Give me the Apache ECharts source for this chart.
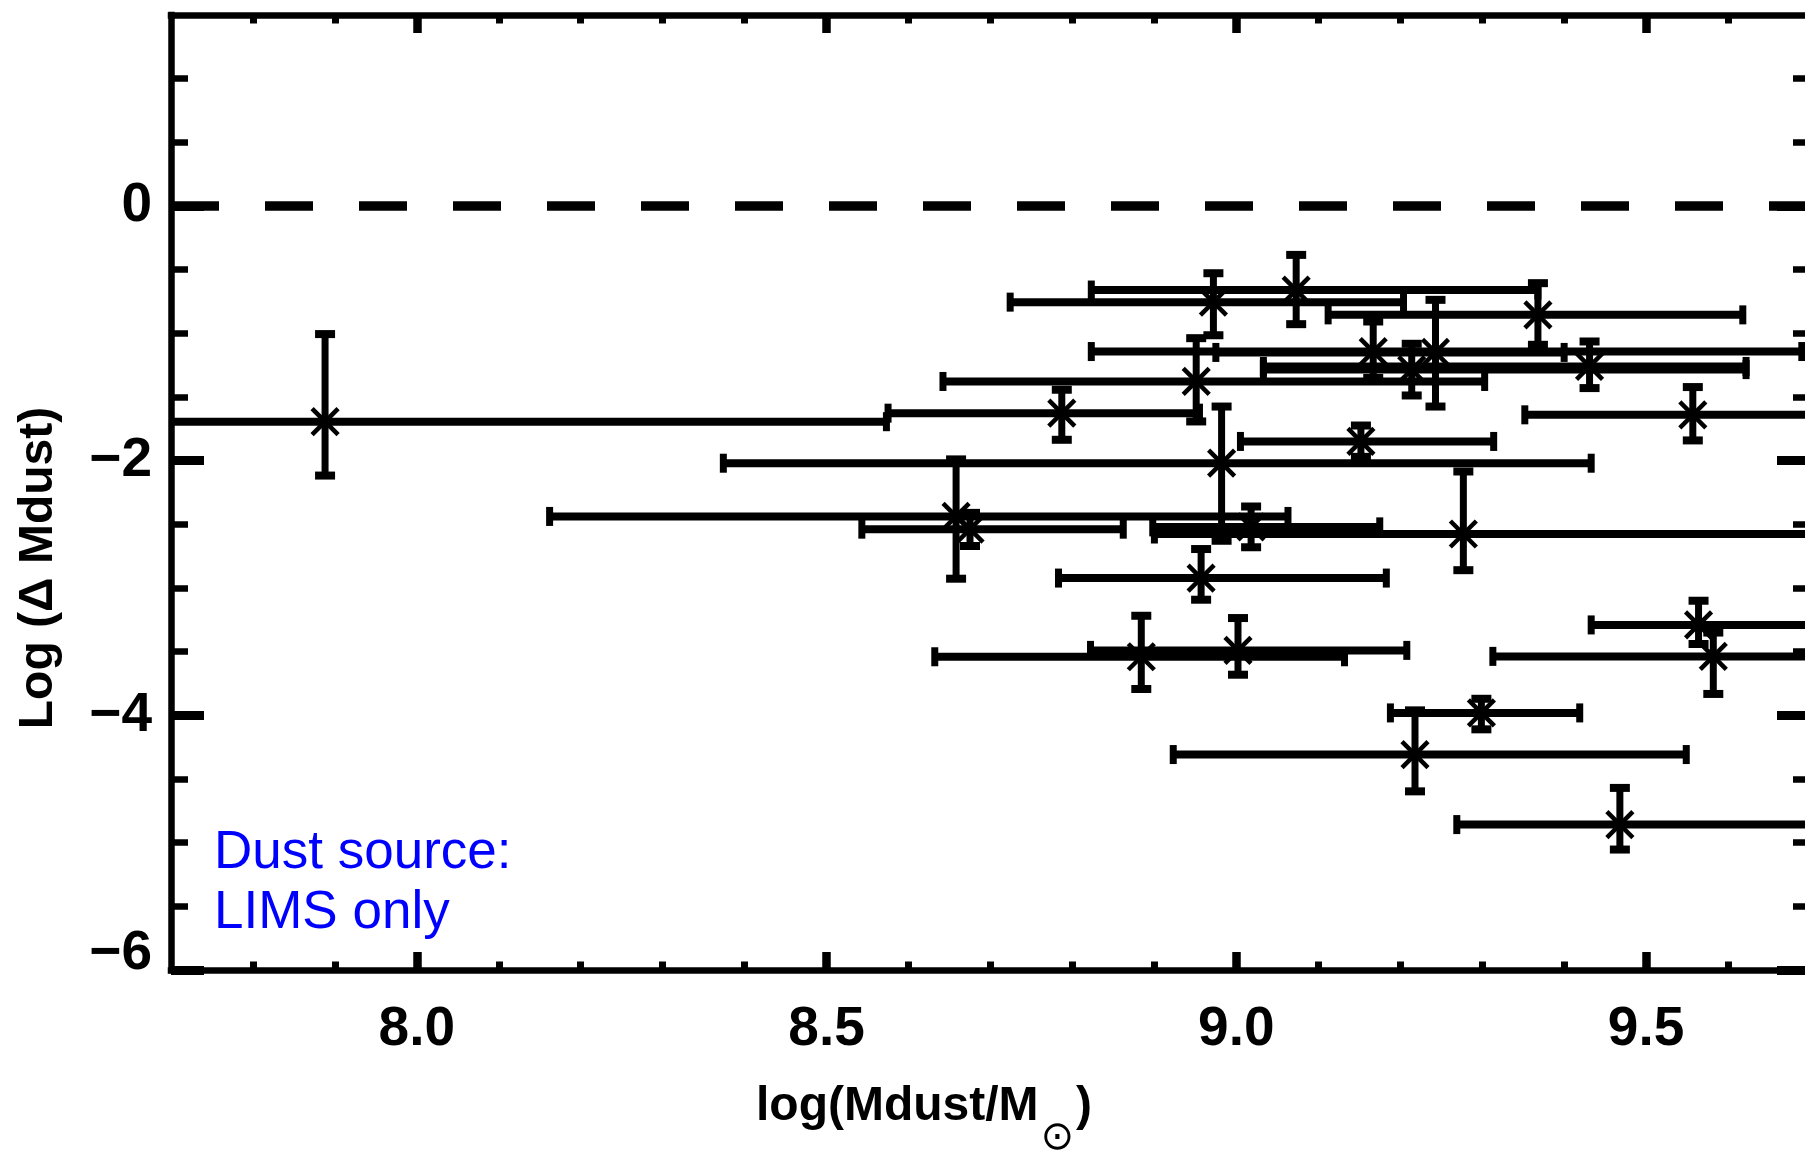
<!DOCTYPE html>
<html>
<head>
<meta charset="utf-8">
<script src="https://cdn.jsdelivr.net/npm/echarts@6/dist/echarts.min.js"></script>
<style>
html,body{margin:0;padding:0;background:#fff;}
#c{width:1805px;height:1153px;}
</style>
</head>
<body>
<div id="c"></div>
<script>
// ---- data ----
// order: P1, A..X
const xVal  = [7.888, 8.972, 9.073, 9.368, 9.167, 8.951, 8.787, 8.982, 8.658, 8.675, 9.018, 9.277, 8.957, 8.884, 9.002, 9.564, 9.582, 9.299, 9.218, 9.468, 9.214, 9.243, 9.557, 9.431, 9.152];
const yVal  = [-1.694, -0.755, -0.660, -0.855, -1.143, -1.378, -1.627, -2.020, -2.438, -2.538, -2.520, -2.576, -2.922, -3.540, -3.490, -3.290, -3.537, -3.981, -4.308, -4.858, -1.285, -1.150, -1.640, -1.260, -1.849];
const xLow  = [7.10, 8.724, 8.823, 9.112, 8.823, 8.642, 8.575, 8.374, 8.162, 8.543, 8.898, 8.900, 8.783, 8.632, 8.822, 9.433, 9.313, 9.188, 8.923, 9.269, 9.033, 8.975, 9.352, 9.033, 9.005];
const xHigh = [8.573, 9.204, 9.368, 9.618, 9.690, 9.303, 8.955, 9.433, 9.063, 8.862, 9.175, 9.80, 9.183, 9.132, 9.208, 9.72, 9.85, 9.419, 9.549, 9.75, 9.622, 9.400, 9.78, 9.622, 9.314];
const yLow  = [-2.117, -1.015, -0.928, -1.090, -1.350, -1.692, -1.836, -2.629, -2.927, -2.670, -2.680, -2.860, -3.092, -3.793, -3.681, -3.440, -3.832, -4.110, -4.597, -5.054, -1.488, -1.575, -1.841, -1.430, -1.970];
const yHigh = [-1.006, -0.528, -0.384, -0.606, -0.907, -1.038, -1.443, -1.575, -1.990, -2.410, -2.360, -2.085, -2.694, -3.218, -3.236, -3.100, -3.350, -3.870, -3.961, -4.570, -1.082, -0.737, -1.422, -1.064, -1.724];

const refLine = [[7.7, 0], [9.7, 0]];

const xMajor = [8.0, 8.5, 9.0, 9.5];
const xMinor = [7.8, 7.9, 8.1, 8.2, 8.3, 8.4, 8.6, 8.7, 8.8, 8.9, 9.1, 9.2, 9.3, 9.4, 9.6];
const yMajor = [-6, -4, -2, 0];
const yMinor = [1.0, 0.5, -0.5, -1.0, -1.5, -2.5, -3.0, -3.5, -4.5, -5.0, -5.5];

const X_MIN = 7.7, X_MAX = 9.7, Y_MIN = -6, Y_MAX = 1.5;

// ---- styles ----
const BLACK = '#000';
const XLW = 8, YLW = 7, XCAP = 9.5, XCAPW = 7, YCAP = 10, YCAPW = 8, AST = 14, ASTD = 13, ASTW = 4.5;

function seg(x1, y1, x2, y2, w) {
  return { type: 'line', shape: { x1: x1, y1: y1, x2: x2, y2: y2 }, style: { stroke: BLACK, lineWidth: w, fill: null } };
}

function renderItem(params, api) {
  const x = api.value(0), y = api.value(1);
  const xlo = api.value(2), xhi = api.value(3), ylo = api.value(4), yhi = api.value(5);
  const cs = params.coordSys;
  const minX = cs.x, maxX = cs.x + cs.width;
  const c = api.coord([x, y]);
  const pl = api.coord([xlo, y]), ph = api.coord([xhi, y]);
  const pb = api.coord([x, ylo]), pt = api.coord([x, yhi]);
  const ch = [];
  const lx = Math.max(pl[0], minX), hx = Math.min(ph[0], maxX);
  ch.push(seg(lx, c[1], hx, c[1], XLW));
  if (pl[0] >= minX) ch.push(seg(pl[0], c[1] - XCAP, pl[0], c[1] + XCAP, XCAPW));
  if (ph[0] <= maxX) ch.push(seg(ph[0], c[1] - XCAP, ph[0], c[1] + XCAP, XCAPW));
  ch.push(seg(c[0], pt[1], c[0], pb[1], YLW));
  ch.push(seg(c[0] - YCAP, pt[1], c[0] + YCAP, pt[1], YCAPW));
  ch.push(seg(c[0] - YCAP, pb[1], c[0] + YCAP, pb[1], YCAPW));
  // asterisk
  ch.push(seg(c[0], c[1] - AST, c[0], c[1] + AST, ASTW));
  ch.push(seg(c[0] - AST, c[1], c[0] + AST, c[1], ASTW));
  ch.push(seg(c[0] - ASTD, c[1] - ASTD, c[0] + ASTD, c[1] + ASTD, ASTW));
  ch.push(seg(c[0] - ASTD, c[1] + ASTD, c[0] + ASTD, c[1] - ASTD, ASTW));
  return { type: 'group', children: ch };
}

const tickLabelFont = { color: BLACK, fontSize: 55, fontWeight: 'bold', fontFamily: 'Liberation Sans' };

function xAxisDef(pos, ticks, len, w, showLine, showLabel) {
  return {
    type: 'value', position: pos, min: X_MIN, max: X_MAX,
    axisLine: { show: showLine, onZero: false, lineStyle: { color: BLACK, width: 6.5, cap: 'square' } },
    axisTick: { show: true, inside: true, length: len, customValues: ticks, lineStyle: { color: BLACK, width: w } },
    minorTick: { show: false },
    axisLabel: showLabel ? Object.assign({
      show: true, customValues: xMajor, margin: 32,
      formatter: function (v) { return Number(v).toFixed(1); }
    }, tickLabelFont) : { show: false },
    splitLine: { show: false }
  };
}

function yAxisDef(pos, ticks, len, w, showLine, showLabel) {
  return {
    type: 'value', position: pos, min: Y_MIN, max: Y_MAX,
    axisLine: { show: showLine, onZero: false, lineStyle: { color: BLACK, width: 6.5, cap: 'square' } },
    axisTick: { show: true, inside: true, length: len, customValues: ticks, lineStyle: { color: BLACK, width: w } },
    minorTick: { show: false },
    axisLabel: showLabel ? Object.assign({
      show: true, customValues: yMajor, margin: 19,
      formatter: function (v) {
        const s = v === 0 ? '0' : (v < 0 ? '\u2212' + Math.abs(v) : String(v));
        return v === -6 ? '{lo|' + s + '}' : s;
      },
      rich: { lo: { fontSize: 55, fontWeight: 'bold', fontFamily: 'Liberation Sans', color: BLACK, padding: [0, 0, 32, 0] } }
    }, tickLabelFont) : { show: false },
    splitLine: { show: false }
  };
}

const chart = echarts.init(document.getElementById('c'), null, { renderer: 'canvas' });
chart.setOption({
  animation: false,
  backgroundColor: '#fff',
  grid: { left: 171, top: 15, width: 1639, height: 955, containLabel: false, outerBoundsMode: 'none' },
  xAxis: [
    xAxisDef('bottom', xMajor, 18, 8.5, true, true),
    xAxisDef('bottom', xMinor, 8.5, 7, false, false),
    xAxisDef('top', xMajor, 18, 8.5, true, false),
    xAxisDef('top', xMinor, 8.5, 7, false, false)
  ],
  yAxis: [
    yAxisDef('left', yMajor, 33, 9, true, true),
    yAxisDef('left', yMinor, 17, 6.5, false, false),
    yAxisDef('right', yMajor, 33, 9, true, false),
    yAxisDef('right', yMinor, 17, 6.5, false, false)
  ],
  series: [
    {
      type: 'line', xAxisIndex: 0, yAxisIndex: 0, data: refLine,
      symbol: 'none', silent: true, z: 1,
      lineStyle: { color: BLACK, width: 9.5, type: [48, 46], dashOffset: 0 }
    },
    {
      type: 'custom', xAxisIndex: 0, yAxisIndex: 0, z: 3,
      data: xVal.map(function (x, i) { return [x, yVal[i], xLow[i], xHigh[i], yLow[i], yHigh[i]]; }),
      renderItem: renderItem, silent: true
    }
  ],
  graphic: [
    {
      type: 'text', x: 39, y: 568, rotation: Math.PI / 2,
      style: { text: 'Log (\u0394 Mdust)', fill: BLACK, fontSize: 48, fontWeight: 'bold', fontFamily: 'Liberation Sans', align: 'center', verticalAlign: 'middle' }
    },
    {
      type: 'text', x: 756, y: 1083,
      style: {
        text: '{a|log(Mdust/M}{b|\u2299}{a|)}', align: 'left', verticalAlign: 'top',
        rich: {
          a: { fill: BLACK, fontSize: 48, fontWeight: 'bold', fontFamily: 'Liberation Sans', lineHeight: 56, verticalAlign: 'top' },
          b: { fill: BLACK, fontSize: 40, fontFamily: 'DejaVu Sans', lineHeight: 40, padding: [36, 2, 0, 2], verticalAlign: 'top' }
        }
      }
    },
    {
      type: 'text', x: 214, y: 853,
      style: { text: 'Dust source:', fill: '#0000ff', fontSize: 53, fontFamily: 'Liberation Sans', align: 'left', verticalAlign: 'middle' }
    },
    {
      type: 'text', x: 214, y: 913,
      style: { text: 'LIMS only', fill: '#0000ff', fontSize: 53, fontFamily: 'Liberation Sans', align: 'left', verticalAlign: 'middle' }
    }
  ]
});
</script>
</body>
</html>
